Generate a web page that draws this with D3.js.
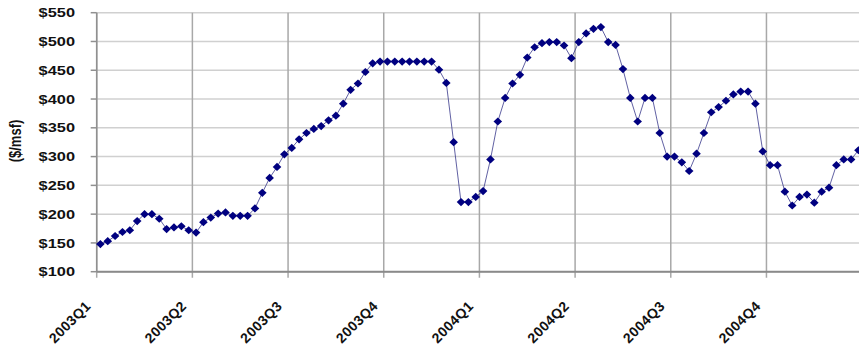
<!DOCTYPE html>
<html>
<head>
<meta charset="utf-8">
<script src="https://cdn.jsdelivr.net/npm/d3@7"></script>
<style>
  html, body { margin: 0; padding: 0; background: #fff; }
  svg { display: block; }
  text { font-family: Arial, "Liberation Sans", sans-serif; font-weight: bold; fill: #111; }
</style>
</head>
<body>
<svg id="chart" width="859" height="354"></svg>
<script>
// Weekly rents, 2003-2004, thirteen weeks per quarter
const quarters = ["2003Q1", "2003Q2", "2003Q3", "2003Q4", "2004Q1", "2004Q2", "2004Q3", "2004Q4"];
const weeksPerQuarter = 13;
const rents = [
  148, 153, 162, 169, 172, 188, 200, 200, 192, 174, 177, 179, 172,
  168, 186, 194, 201, 203, 197, 197, 197, 210, 237, 263, 282, 304,
  315, 330, 341, 348, 353, 363, 371, 392, 416, 427, 447, 462, 465,
  465, 465, 465, 465, 465, 465, 465, 451, 428, 325, 221, 221, 230,
  240, 295, 361, 402, 427, 442, 472, 490, 497, 499, 499, 493, 471,
  499, 514, 522, 525, 499, 494, 452, 402, 361, 402, 402, 341, 300,
  300, 290, 275, 305, 341, 377, 386, 397, 408, 413, 413, 392, 309,
  285, 285, 239, 215, 230, 234, 220, 239, 246, 285, 295, 295, 311
];
const yTicks = [100, 150, 200, 250, 300, 350, 400, 450, 500, 550];
const yTitle = "($/msf)";

const svg = d3.select("#chart");
const plot = { left: 96.7, top: 12.7, bottom: 271.7, right: 96.7 + 7.36 * rents.length };
const stretch = 1.26; // horizontal text widening

const x = d3.scaleBand()
  .domain(d3.range(rents.length))
  .range([plot.left, plot.right])
  .paddingInner(0).paddingOuter(0);
const y = d3.scaleLinear().domain([100, 550]).range([plot.bottom, plot.top]);

// horizontal gridlines
svg.append("g").selectAll("line").data(yTicks).join("line")
  .attr("x1", plot.left).attr("x2", plot.right)
  .attr("y1", d => y(d)).attr("y2", d => y(d))
  .attr("stroke", "#d0d0d0").attr("stroke-width", 1.5);

// quarter boundaries (vertical gridlines with tick below the axis)
const boundaries = quarters.map((q, k) => ({ q, pos: x(k * weeksPerQuarter) }));
svg.append("g").selectAll("line").data(boundaries).join("line")
  .attr("x1", d => d.pos).attr("x2", d => d.pos)
  .attr("y1", plot.top).attr("y2", plot.bottom + 6)
  .attr("stroke", "#a8a8a8").attr("stroke-width", 1.5);

// axes lines
svg.append("line")
  .attr("x1", plot.left).attr("x2", plot.left)
  .attr("y1", plot.top).attr("y2", plot.bottom)
  .attr("stroke", "#909090").attr("stroke-width", 1.5);
svg.append("line")
  .attr("x1", plot.left).attr("x2", plot.right)
  .attr("y1", plot.bottom).attr("y2", plot.bottom)
  .attr("stroke", "#8a8a8a").attr("stroke-width", 2);

// y ticks and labels
const yg = svg.append("g");
yg.selectAll("line").data(yTicks).join("line")
  .attr("x1", plot.left - 6).attr("x2", plot.left)
  .attr("y1", d => y(d)).attr("y2", d => y(d))
  .attr("stroke", "#909090").attr("stroke-width", 1.5);
yg.selectAll("text").data(yTicks).join("text")
  .attr("transform", d => `translate(75,${y(d)}) scale(${stretch},1)`)
  .attr("text-anchor", "end").attr("dy", "0.36em")
  .style("font-size", "13px")
  .text(d => "$" + d);

// y title
svg.append("text")
  .attr("transform", `translate(15,141) scale(${stretch},1) rotate(-90)`)
  .attr("text-anchor", "middle").attr("dy", "0.35em")
  .style("font-size", "13px")
  .text(yTitle);

// quarter labels, rotated
svg.append("g").selectAll("text").data(boundaries).join("text")
  .attr("transform", d => `translate(${d.pos - 8.5},303.5) rotate(-45)`)
  .attr("text-anchor", "end").attr("dy", "0.35em")
  .style("font-size", "14px").style("letter-spacing", "0.4px")
  .text(d => d.q);

// series line
const cx = i => x(i) + x.bandwidth() / 2;
const line = d3.line().x((d, i) => cx(i)).y(d => y(d));
svg.append("path").datum(rents)
  .attr("d", line)
  .attr("fill", "none")
  .attr("stroke", "#3a3a8c").attr("stroke-width", 1).attr("stroke-opacity", 0.8);

// diamond markers
svg.append("g").selectAll("path").data(rents).join("path")
  .attr("transform", (d, i) => `translate(${cx(i)},${y(d)})`)
  .attr("d", "M0,-4.1L4.3,0L0,4.1L-4.3,0Z")
  .attr("fill", "#000080");
</script>
</body>
</html>
